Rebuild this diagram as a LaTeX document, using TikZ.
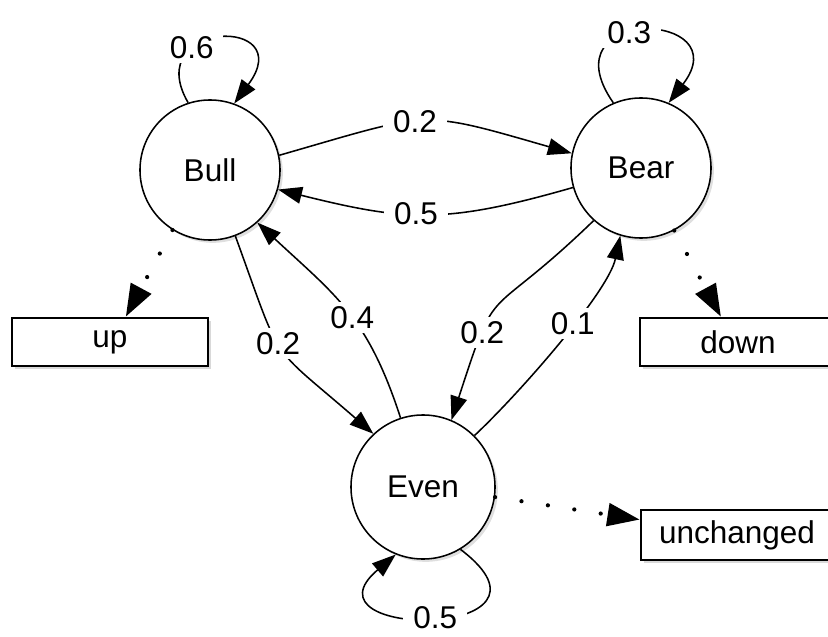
\documentclass[tikz,border=0pt]{standalone}
\usepackage{fontspec}
\setmainfont{Liberation Sans}
\usetikzlibrary{arrows.meta, shadows}

\begin{document}
\begin{tikzpicture}[x=0.025cm, y=0.025cm,
    every node/.style={font=\fontsize{22.4}{26}\selectfont},
    state/.style={draw, circle, line width=1.1pt, fill=white, minimum size=3.5cm,
        drop shadow={shadow xshift=2pt, shadow yshift=-2pt, opacity=0.25}},
    outcome/.style={draw, rectangle, line width=1.8pt, fill=white, minimum height=1.2cm,
        drop shadow={shadow xshift=2pt, shadow yshift=-2pt, opacity=0.3}},
    prob/.style={fill=white, inner xsep=7pt, inner ysep=3pt},
    trans/.style={line width=1.1pt, -{Triangle[length=17pt, width=12pt]}},
    emit/.style={line width=3pt, line cap=round, dash pattern=on 0pt off 19pt,
        -{Triangle[length=23pt, width=16pt]}}]

    \useasboundingbox (0,0) rectangle (828,-637);

    % States
    \node[state] (bull) at (210,-170) {Bull};
    \node[state] (bear) at (641,-168) {Bear};
    \node[state, minimum size=3.6cm] (even) at (423,-487) {Even};
    % Outcomes
    \node[outcome, minimum width=4.9cm] (up) at (110,-342) {up};
    \node[outcome, minimum width=4.9cm] (down) at (738,-342) {down};
    \node[outcome, minimum width=4.8cm, minimum height=1.25cm] (unch) at (737,-535) {unchanged};

    % Self loops
    \draw[trans] (bull.108) .. controls (140,-20) and (300,-15) .. node[prob, pos=0.32] {0.6} (bull.70);
    \draw[trans] (bear.113) .. controls (545,-5) and (740,-10) .. node[prob, pos=0.43] {0.3} (bear.67);
    \draw[trans] (even.-59) .. controls (580,-640) and (295,-640) .. node[prob, pos=0.5] {0.5} (even.-112);
    % Bull <-> Bear
    \draw[trans] (bull.12) to[out=16, in=164, looseness=1.4] node[prob, pos=0.45] {0.2} (bear.168);
    \draw[trans] (bear.196) to[out=196, in=-14, looseness=1.15] node[prob, pos=0.54] {0.5} (bull.-16);
    % Bull <-> Even
    \draw[trans] (bull.-69) to[out=-70, in=139, looseness=1.5] node[prob, pos=0.45] {0.2} (even.133);
    \draw[trans] (even.108) to[out=108, in=-43, looseness=1.13] node[prob, pos=0.45] {0.4} (bull.-48);
    % Bear <-> Even
    \draw[trans] (bear.228) to[out=224, in=72, looseness=1.6] node[prob, pos=0.7] {0.2} (even.67);
    \draw[trans] (even.45) to[out=43, in=258, looseness=0.6] node[prob, pos=0.58] {0.1} (bear.253);
    % Outputs
    \draw[emit] (bull.-122) -- (up.58);
    \draw[emit] (bear.-62) -- (down.124);
    \draw[emit] (even.-8) -- (unch.171);
\end{tikzpicture}
\end{document}
